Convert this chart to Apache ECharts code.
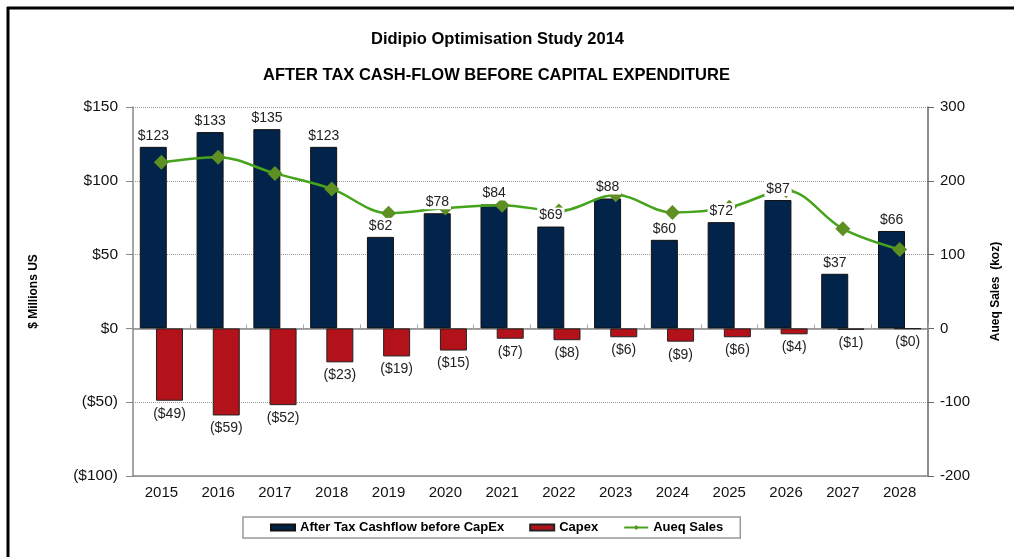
<!DOCTYPE html>
<html>
<head>
<meta charset="utf-8">
<script src="https://cdn.jsdelivr.net/npm/echarts@6/dist/echarts.min.js"></script>
<style>
  html, body { margin: 0; padding: 0; background: #fff; }
  #chart { width: 1014px; height: 557px; }
</style>
</head>
<body>
<div id="chart"></div>
<script>
// 数据
const years = ['2015', '2016', '2017', '2018', '2019', '2020', '2021', '2022', '2023', '2024', '2025', '2026', '2027', '2028'];
const cashflow = [123, 133, 135, 123, 62, 78, 84, 69, 88, 60, 72, 87, 37, 66];
const capex = [-49, -59, -52, -23, -19, -15, -7, -8, -6, -9, -6, -4, -1, -0.3];
const aueqSales = [225, 232, 210, 189, 156, 163, 167, 159, 181, 157, 164, 187, 135, 107];
const leftTicks = [-100, 50, 150];   // min, interval, max
const rightTicks = [-200, 100, 300];

const fontFamily = '"Liberation Sans", Arial, sans-serif';

// $123 / ($49)
function money(v) {
  const n = Math.round(Math.abs(v));
  return v < 0 ? '($' + n + ')' : '$' + n;
}

const chart = echarts.init(document.getElementById('chart'));
const option = {
  backgroundColor: '#fff',
  animation: false,
  textStyle: { fontFamily: fontFamily },
  title: [
    {
      text: 'Didipio Optimisation Study 2014',
      left: 366, top: 26,
      textStyle: { fontSize: 16.5, fontWeight: 'bold', color: '#000', fontFamily: fontFamily }
    },
    {
      text: 'AFTER TAX CASH-FLOW BEFORE CAPITAL EXPENDITURE',
      left: 258, top: 62,
      textStyle: { fontSize: 16.5, fontWeight: 'bold', color: '#000', fontFamily: fontFamily }
    }
  ],
  // 外框
  graphic: [
    { type: 'line', shape: { x1: 7, y1: 8, x2: 1014, y2: 8 }, style: { stroke: '#000', lineWidth: 3 } },
    { type: 'line', shape: { x1: 8, y1: 7, x2: 8, y2: 557 }, style: { stroke: '#000', lineWidth: 3 } }
  ],
  legend: {
    left: 243, top: 517,
    padding: [4, 17, 4, 27],
    borderColor: '#999', borderWidth: 1.5,
    itemGap: 25, itemWidth: 24, itemHeight: 6,
    textStyle: { fontSize: 13, fontWeight: 'bold', color: '#000', fontFamily: fontFamily },
    data: [
      { name: 'After Tax Cashflow before CapEx', icon: 'rect' },
      { name: 'Capex', icon: 'rect' },
      { name: 'Aueq Sales' }
    ]
  },
  grid: { left: 133, right: 86, top: 107, bottom: 81 },
  xAxis: [
    {
      type: 'category',
      data: years,
      axisLine: { onZero: false, lineStyle: { color: '#888', width: 1.5 } },
      axisTick: { show: false },
      axisLabel: { fontSize: 15, color: '#111', margin: 9, fontFamily: fontFamily }
    },
    {
      type: 'category',
      data: years,
      position: 'bottom',
      axisLine: { onZero: true, lineStyle: { color: '#888', width: 1.5 } },
      axisTick: { show: true, length: 4, inside: true, lineStyle: { color: '#aaa' } },
      axisLabel: { show: false }
    }
  ],
  yAxis: [
    {
      type: 'value',
      min: leftTicks[0], interval: leftTicks[1], max: leftTicks[2],
      name: '$ Millions US',
      nameLocation: 'middle', nameGap: 93, nameRotate: 90,
      nameTextStyle: { fontSize: 12, fontWeight: 'bold', color: '#000', fontFamily: fontFamily },
      axisLine: { show: true, lineStyle: { color: '#888', width: 1.5 } },
      axisTick: { show: true, length: 7, lineStyle: { color: '#888' } },
      axisLabel: { fontSize: 15.5, color: '#111', margin: 15, formatter: money, fontFamily: fontFamily },
      splitLine: { lineStyle: { color: '#999', type: 'dotted' } }
    },
    {
      type: 'value',
      min: rightTicks[0], interval: rightTicks[1], max: rightTicks[2],
      name: 'Aueq Sales  (koz)',
      nameLocation: 'middle', nameGap: 62, nameRotate: 90,
      nameTextStyle: { fontSize: 12, fontWeight: 'bold', color: '#000', fontFamily: fontFamily },
      axisLine: { show: true, lineStyle: { color: '#666', width: 1.5 } },
      axisTick: { show: true, length: 6, lineStyle: { color: '#666' } },
      axisLabel: { fontSize: 15, color: '#111', margin: 12, fontFamily: fontFamily },
      splitLine: { show: false }
    }
  ],
  series: [
    {
      name: 'After Tax Cashflow before CapEx',
      type: 'bar',
      barWidth: 27,
      barGap: '-40%',
      data: cashflow,
      itemStyle: { color: '#03244a', borderColor: '#111', borderWidth: 1 },
      z: 2
    },
    {
      name: 'Capex',
      type: 'bar',
      barWidth: 27,
      data: capex,
      itemStyle: { color: '#b4121b', borderColor: '#222', borderWidth: 1 },
      label: {
        show: true, position: 'bottom', distance: 6,
        formatter: p => money(p.value),
        fontSize: 14, color: '#222', fontFamily: fontFamily
      },
      z: 2
    },
    {
      name: 'Aueq Sales',
      type: 'line',
      yAxisIndex: 1,
      data: aueqSales,
      smooth: 0.35,
      symbol: 'diamond',
      symbolSize: 15,
      lineStyle: { color: '#45a31c', width: 2.5 },
      itemStyle: { color: '#5d8f22' },
      z: 4
    },
    // 现金流标签：白底压在折线上方
    {
      name: 'cashLabels',
      type: 'scatter',
      data: cashflow,
      symbolSize: 0,
      silent: true,
      itemStyle: { opacity: 1 },
      label: {
        show: true, position: 'top', distance: 4, offset: [-8, 0],
        formatter: p => money(p.value),
        fontSize: 14, color: '#222', backgroundColor: '#fff', padding: [1, 2, 0, 2],
        fontFamily: fontFamily
      },
      z: 6
    }
  ]
};
chart.setOption(option);
</script>
</body>
</html>
